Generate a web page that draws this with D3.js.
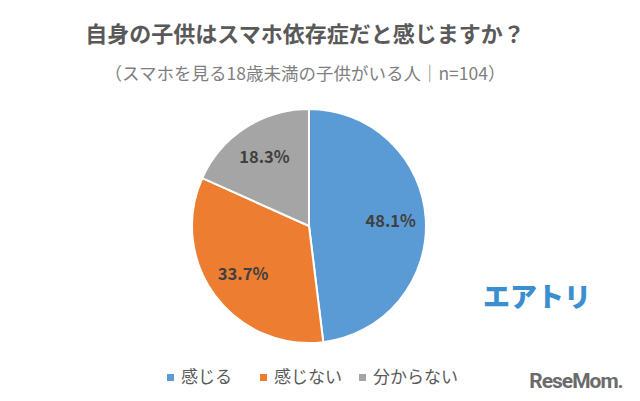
<!DOCTYPE html>
<html><head><meta charset="utf-8">
<script src="https://cdn.jsdelivr.net/npm/d3@7"></script>
<style>body{margin:0;background:#fff}svg{display:block}</style>
</head><body>
<script>
const categories = ["感じる", "感じない", "分からない"];
const values = [48.1, 33.7, 18.3];
const colors = ["#5b9bd5", "#ed7d31", "#a5a5a5"];
const title = "自身の子供はスマホ依存症だと感じますか？";
const subtitle = "（スマホを見る18歳未満の子供がいる人｜n=104）";

const W = 640, H = 401;
const svg = d3.select("body").append("svg").attr("width", W).attr("height", H);
const font = "'Noto Sans CJK JP', 'Noto Sans', sans-serif";

svg.append("text").attr("x", 305).attr("y", 42).attr("text-anchor", "middle")
  .attr("font-family", font).attr("font-weight", "bold").attr("font-size", 22)
  .attr("fill", "#595959").text(title);
svg.append("text").attr("x", 305).attr("y", 80).attr("text-anchor", "middle")
  .attr("font-family", font).attr("font-size", 17.5)
  .attr("fill", "#7f7f7f").text(subtitle);

const cx = 309, cy = 226, r = 117;
const pie = d3.pie().sort(null).value(d => d)(values);
const arc = d3.arc().innerRadius(0).outerRadius(r);
const g = svg.append("g").attr("transform", `translate(${cx},${cy})`);
g.selectAll("path").data(pie).join("path")
  .attr("d", arc).attr("fill", (d, i) => colors[i])
  .attr("stroke", "#fff").attr("stroke-width", 2);

const labelArc = d3.arc().innerRadius(r * 0.7).outerRadius(r * 0.7);
g.selectAll("text").data(pie).join("text")
  .attr("transform", d => `translate(${labelArc.centroid(d)})`)
  .attr("text-anchor", "middle").attr("dy", "0.35em")
  .attr("font-family", font).attr("font-weight", "bold").attr("font-size", 16.5)
  .attr("fill", "#404040").text(d => d.value.toFixed(1) + "%");

// legend
const legendX = [167, 260, 359];
const lg = svg.append("g");
categories.forEach((c, i) => {
  lg.append("rect").attr("x", legendX[i]).attr("y", 374).attr("width", 7).attr("height", 7).attr("fill", colors[i]);
  lg.append("text").attr("x", legendX[i] + 14).attr("y", 383)
    .attr("font-family", font).attr("font-size", 17).attr("fill", "#595959").text(c);
});

// logos
svg.append("text").attr("x", 537).attr("y", 307).attr("text-anchor", "middle")
  .attr("font-family", font).attr("font-weight", "900").attr("font-size", 27)
  .attr("fill", "#3a8fd0").text("エアトリ");
svg.append("text").attr("x", 576).attr("y", 388).attr("text-anchor", "middle")
  .attr("font-family", "'Roboto', sans-serif").attr("font-weight", "bold").attr("font-size", 21)
  .attr("letter-spacing", "-1").attr("fill", "#6b6b6b").text("ReseMom.");
</script>
</body></html>
